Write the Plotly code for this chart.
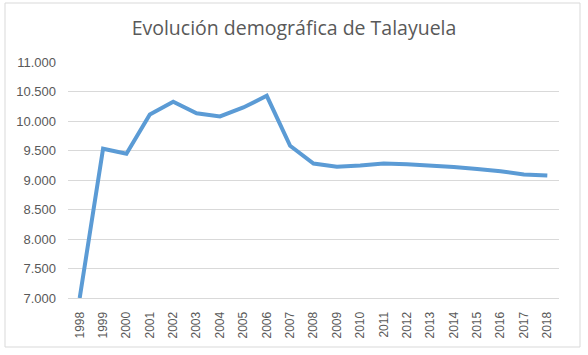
import plotly.graph_objects as go

years = [str(y) for y in range(1998, 2019)]
population = [7000, 9530, 9445, 10110, 10327, 10130, 10077, 10230, 10427, 9580,
              9280, 9225, 9245, 9280, 9265, 9250, 9220, 9185, 9150, 9095, 9075]
y_ticks = [7000, 7500, 8000, 8500, 9000, 9500, 10000, 10500, 11000]

fig = go.Figure()
fig.add_trace(go.Scatter(
    x=years, y=population, mode="lines",
    line=dict(color="#5B9BD5", width=4),
    hoverinfo="x+y",
))

L, R, T, B = 68, 29, 62, 57
W, H = 588, 355
pw, ph = W - L - R, H - T - B

def px_x(x):
    return (x - L) / pw

def px_y(y):
    return (H - B - y) / ph

fig.add_shape(type="rect", xref="paper", yref="paper",
              x0=px_x(5), x1=px_x(580), y0=px_y(347), y1=px_y(3),
              line=dict(color="#D9D9D9", width=1), layer="below")

fig.update_layout(
    width=W, height=H,
    margin=dict(l=L, r=R, t=T, b=B),
    paper_bgcolor="white", plot_bgcolor="white",
    separators=",.",
    showlegend=False,
    title=dict(text="Evolución demográfica de Talayuela",
               x=0.5, xref="container", xanchor="center",
               y=1 - 28 / H, yanchor="middle",
               font=dict(family="Open Sans, sans-serif", size=19.5, color="#595959")),
    font=dict(family="Liberation Sans, Arial, sans-serif", size=13, color="#595959"),
)
fig.update_xaxes(
    type="category", range=[-0.5, 20.5],
    tickangle=-90, showgrid=False,
    showline=True, linecolor="#D9D9D9", linewidth=1,
    ticks="", ticklabelstandoff=8,
    tickfont=dict(size=12, color="#595959"),
)
fig.update_yaxes(
    range=[7000, 11000], tickvals=y_ticks, tickformat=",d",
    showgrid=True, gridcolor="#D9D9D9", gridwidth=1,
    zeroline=False, showline=False, ticks="",
    ticklabelstandoff=11,
    tickfont=dict(size=13, color="#595959"),
)

fig.write_html("out.html", config={"displayModeBar": False},
               post_script="document.body.style.margin='0';")
